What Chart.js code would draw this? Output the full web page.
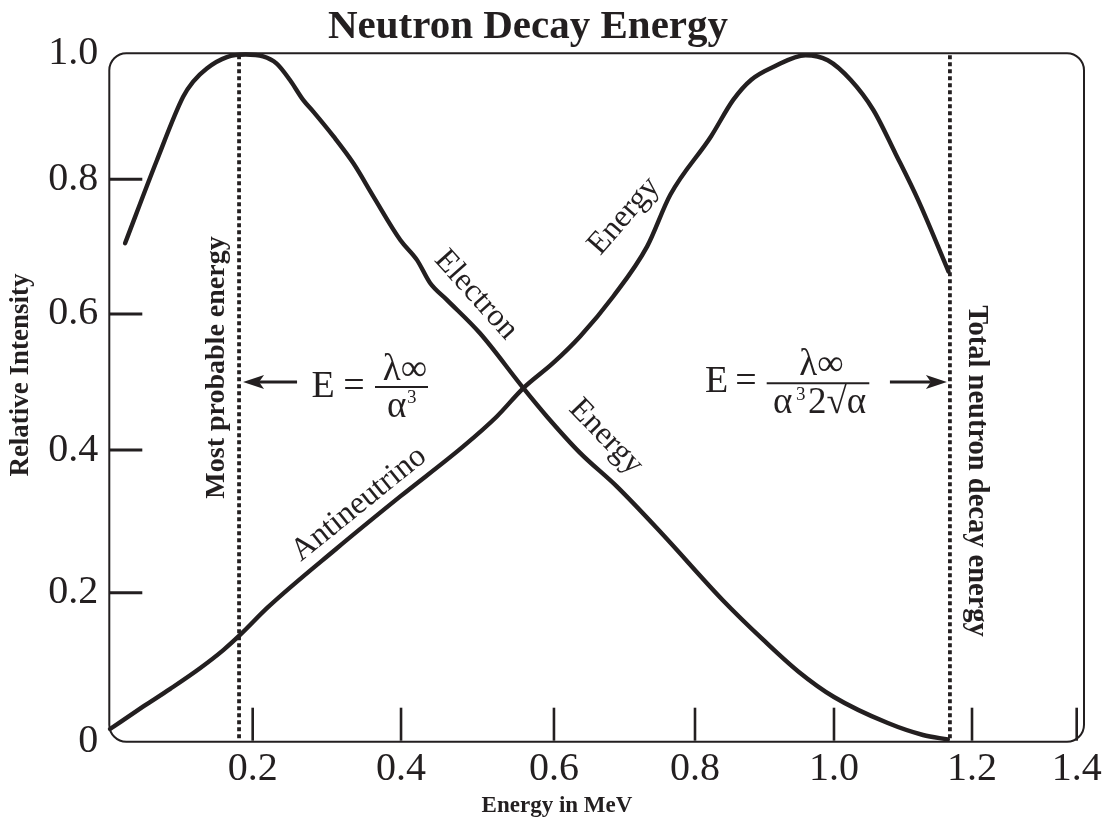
<!DOCTYPE html>
<html>
<head>
<meta charset="utf-8">
<script src="https://cdn.jsdelivr.net/npm/chart.js@4.4.1/dist/chart.umd.min.js"></script>
<style>
  html, body { margin: 0; padding: 0; background: #ffffff; }
  #wrap { width: 1107px; height: 820px; position: relative; }
</style>
</head>
<body>
<div id="wrap"><canvas id="c" width="1107" height="820"></canvas></div>
<script>
// ---------------- data ----------------
const electronEnergy    = [0.022, 0.066, 0.103, 0.117, 0.136, 0.164, 0.190, 0.214, 0.232, 0.250, 0.268, 0.282, 0.309, 0.336, 0.363, 0.399, 0.421, 0.438, 0.460, 0.503, 0.560, 0.591, 0.637, 0.689, 0.753, 0.840, 0.898, 0.949, 1.000, 1.078, 1.129, 1.165];
const electronIntensity = [0.705, 0.829, 0.931, 0.955, 0.976, 0.994, 0.998, 0.995, 0.984, 0.958, 0.926, 0.907, 0.868, 0.825, 0.774, 0.710, 0.680, 0.646, 0.621, 0.572, 0.491, 0.449, 0.396, 0.349, 0.283, 0.190, 0.137, 0.094, 0.060, 0.025, 0.009, 0.003];

const antineutrinoEnergy    = [0.001, 0.047, 0.085, 0.127, 0.159, 0.182, 0.221, 0.312, 0.399, 0.481, 0.525, 0.560, 0.599, 0.637, 0.684, 0.732, 0.765, 0.823, 0.855, 0.881, 0.914, 0.959, 0.991, 1.024, 1.057, 1.089, 1.122, 1.166];
const antineutrinoIntensity = [0.017, 0.047, 0.071, 0.099, 0.123, 0.143, 0.181, 0.261, 0.335, 0.405, 0.449, 0.491, 0.528, 0.567, 0.626, 0.700, 0.777, 0.868, 0.926, 0.958, 0.979, 0.997, 0.989, 0.958, 0.910, 0.841, 0.769, 0.663];

const xTickValues = [0.2, 0.4, 0.6, 0.8, 1.0, 1.2, 1.4];
const xTickLabels = ['0.2', '0.4', '0.6', '0.8', '1.0', '1.2', '1.4'];
const yTickValues = [0, 0.2, 0.4, 0.6, 0.8, 1.0];
const yTickLabels = ['0', '0.2', '0.4', '0.6', '0.8', '1.0'];

const mostProbableEnergy = 0.181;   // dotted line, left
const totalDecayEnergy   = 1.168;   // dotted line, right
const arrowIntensity     = 0.5;     // level of the two arrows

// ---------------- axis geometry (hand-drawn, uneven tick spacing) ----------------
const xAxisBreaks = { values: [0, 0.2, 0.4, 0.6, 0.8, 1.0, 1.2, 1.4, 1.414],
                      fractions: [0, 0.1471, 0.2993, 0.4562, 0.6009, 0.7435, 0.8851, 0.9925, 1] };
const yAxisBreaks = { values: [0, 0.2, 0.4, 0.6, 0.8, 1.0],
                      fractions: [0, 0.2164, 0.4237, 0.6213, 0.8170, 1] };

const INK = '#231f20';
const SERIF = '"Liberation Serif", "Times New Roman", Times, serif';

function interp(v, xs, ys) {
  if (v <= xs[0]) return ys[0] + (v - xs[0]) * (ys[1] - ys[0]) / (xs[1] - xs[0]);
  for (let i = 1; i < xs.length; i++) {
    if (v <= xs[i]) return ys[i - 1] + (v - xs[i - 1]) * (ys[i] - ys[i - 1]) / (xs[i] - xs[i - 1]);
  }
  const n = xs.length - 1;
  return ys[n] + (v - xs[n]) * (ys[n] - ys[n - 1]) / (xs[n] - xs[n - 1]);
}

class PiecewiseScale extends Chart.LinearScale {
  static id = 'piecewise';
  static defaults = Chart.LinearScale.defaults;
  _breaks() { return this.axis === 'x' ? xAxisBreaks : yAxisBreaks; }
  getPixelForValue(value) {
    if (value === null || value === undefined || isNaN(value)) return NaN;
    const b = this._breaks();
    return this.getPixelForDecimal(interp(value, b.values, b.fractions));
  }
  getValueForPixel(pixel) {
    const b = this._breaks();
    return interp(this.getDecimalForPixel(pixel), b.fractions, b.values);
  }
}
Chart.register(PiecewiseScale);

// ---------------- drawing helpers ----------------
function roundRectPath(ctx, x0, y0, x1, y1, r) {
  ctx.beginPath();
  ctx.moveTo(x0 + r, y0);
  ctx.lineTo(x1 - r, y0);
  ctx.arcTo(x1, y0, x1, y0 + r, r);
  ctx.lineTo(x1, y1 - r);
  ctx.arcTo(x1, y1, x1 - r, y1, r);
  ctx.lineTo(x0 + r, y1);
  ctx.arcTo(x0, y1, x0, y1 - r, r);
  ctx.lineTo(x0, y0 + r);
  ctx.arcTo(x0, y0, x0 + r, y0, r);
  ctx.closePath();
}
function seg(ctx, x0, y0, x1, y1) {
  ctx.beginPath(); ctx.moveTo(x0, y0); ctx.lineTo(x1, y1); ctx.stroke();
}
function arrow(ctx, tailX, tipX, y) {
  const dir = tipX < tailX ? -1 : 1;
  const L = 21, H = 7, notch = 5;
  ctx.lineWidth = 3;
  seg(ctx, tailX, y, tipX - dir * (L - notch), y);
  ctx.beginPath();
  ctx.moveTo(tipX, y);
  ctx.lineTo(tipX - dir * L, y - H);
  ctx.lineTo(tipX - dir * (L - notch), y);
  ctx.lineTo(tipX - dir * L, y + H);
  ctx.closePath();
  ctx.fill();
}
function txt(ctx, s, x, y, font, align, baseline, angleDeg) {
  ctx.save();
  ctx.translate(x, y);
  if (angleDeg) ctx.rotate(angleDeg * Math.PI / 180);
  ctx.font = font;
  ctx.textAlign = align || 'center';
  ctx.textBaseline = baseline || 'middle';
  ctx.fillText(s, 0, 0);
  ctx.restore();
}

const framePlugin = {
  id: 'frameAndMarks',
  beforeDatasetsDraw(chart) {
    const { ctx, chartArea: a } = chart;
    const xs = chart.scales.x, ys = chart.scales.y;
    ctx.save();
    ctx.strokeStyle = INK;
    ctx.lineWidth = 2;
    roundRectPath(ctx, a.left, a.top, a.right, a.bottom, 17);
    ctx.stroke();
    // inner tick marks
    ctx.lineWidth = 2.6;
    xTickValues.forEach(v => {
      const px = xs.getPixelForValue(v);
      seg(ctx, px, a.bottom - 1, px, a.bottom - 34);
    });
    ctx.lineWidth = 3;
    yTickValues.filter(v => v > 0 && v < 1).forEach(v => {
      const py = ys.getPixelForValue(v);
      seg(ctx, a.left, py, a.left + 33, py);
    });
    // dotted markers
    ctx.setLineDash([4, 3]);
    ctx.lineWidth = 3.8;
    [mostProbableEnergy, totalDecayEnergy].forEach(v => {
      const px = xs.getPixelForValue(v);
      seg(ctx, px, a.top + 2, px, a.bottom);
    });
    ctx.restore();
  },
  afterDatasetsDraw(chart) {
    const { ctx } = chart;
    const xs = chart.scales.x, ys = chart.scales.y;
    ctx.save();
    ctx.fillStyle = INK;
    ctx.strokeStyle = INK;

    // arrows
    const ay = ys.getPixelForValue(arrowIntensity);
    const leftTip = xs.getPixelForValue(mostProbableEnergy) + 4;
    arrow(ctx, leftTip + 54, leftTip, ay);
    const rightTip = xs.getPixelForValue(totalDecayEnergy) - 3;
    arrow(ctx, rightTip - 57, rightTip, ay);

    // left formula  E = λ∞ / α³
    const F = '38px ' + SERIF, Fs = '37px ' + SERIF, Fsup = '19px ' + SERIF;
    txt(ctx, 'E', 323, 396.7, F, 'center', 'alphabetic');
    txt(ctx, '=', 354, 396.7, F, 'center', 'alphabetic');
    ctx.lineWidth = 2;
    seg(ctx, 375, 387, 428, 387);
    txt(ctx, 'λ∞', 405, 380, Fs, 'center', 'alphabetic');
    txt(ctx, 'α', 387, 417, Fs, 'left', 'alphabetic');
    txt(ctx, '3', 407, 403, Fsup, 'left', 'alphabetic');

    // right formula  E = λ∞ / (α³ 2√α)
    txt(ctx, 'E', 716.7, 391.7, F, 'center', 'alphabetic');
    txt(ctx, '=', 746, 391.7, F, 'center', 'alphabetic');
    seg(ctx, 766.7, 383.3, 869.3, 383.3);
    txt(ctx, 'λ∞', 821.5, 375, Fs, 'center', 'alphabetic');
    txt(ctx, 'α', 773, 413, Fs, 'left', 'alphabetic');
    txt(ctx, '3', 796, 400, Fsup, 'left', 'alphabetic');
    txt(ctx, '2√α', 808, 413, Fs, 'left', 'alphabetic');

    // curve labels
    const C = '32px ' + SERIF;
    txt(ctx, 'Electron', 476, 295, C, 'center', 'middle', 48);
    txt(ctx, 'Energy', 606, 437, C, 'center', 'middle', 46);
    txt(ctx, 'Energy', 624, 216, C, 'center', 'middle', -49);
    txt(ctx, 'Antineutrino', 359, 504, C, 'center', 'middle', -39);

    // bold rotated notes
    txt(ctx, 'Most probable energy', 216.5, 367.5, 'bold 28px ' + SERIF, 'center', 'middle', -90);
    txt(ctx, 'Total neutron decay energy', 976.7, 471, 'bold 28.5px ' + SERIF, 'center', 'middle', 90);
    txt(ctx, 'Relative Intensity', 20.8, 375, 'bold 27px ' + SERIF, 'center', 'middle', -90);
    txt(ctx, 'Energy in MeV', 557, 806, 'bold 23px ' + SERIF, 'center', 'middle');

    // title
    txt(ctx, 'Neutron Decay Energy', 528, 38.3, 'bold 41px ' + SERIF, 'center', 'alphabetic');
    ctx.restore();
  }
};

const lineStyle = {
  borderColor: INK,
  borderWidth: 4.4,
  pointRadius: 0,
  fill: false,
  cubicInterpolationMode: 'monotone',
  borderCapStyle: 'round',
  borderJoinStyle: 'round',
  clip: false
};

new Chart(document.getElementById('c'), {
  type: 'line',
  data: {
    datasets: [
      Object.assign({ label: 'Electron Energy',
        data: electronEnergy.map((x, i) => ({ x, y: electronIntensity[i] })) }, lineStyle),
      Object.assign({ label: 'Antineutrino Energy',
        data: antineutrinoEnergy.map((x, i) => ({ x, y: antineutrinoIntensity[i] })) }, lineStyle)
    ]
  },
  options: {
    responsive: false,
    animation: false,
    devicePixelRatio: 1,
    layout: { padding: { left: 0, top: 53.3, right: 23, bottom: 0 } },
    plugins: { legend: { display: false }, tooltip: { enabled: false }, title: { display: false } },
    scales: {
      x: {
        type: 'piecewise', min: 0, max: 1.414,
        grid: { display: false, drawTicks: false },
        border: { display: false },
        afterBuildTicks: s => { s.ticks = xTickValues.map(v => ({ value: v })); },
        afterFit: s => { s.height = 78.3; s.paddingLeft = 0; s.paddingRight = 0; },
        ticks: {
          autoSkip: false, maxRotation: 0, minRotation: 0,
          callback: (v, i) => xTickLabels[i],
          font: { family: SERIF, size: 40 }, color: INK, padding: 4
        }
      },
      y: {
        type: 'piecewise', min: 0, max: 1.0,
        grid: { display: false, drawTicks: false },
        border: { display: false },
        afterBuildTicks: s => { s.ticks = yTickValues.map(v => ({ value: v })); },
        afterFit: s => { s.width = 109.3; s.paddingTop = 0; s.paddingBottom = 0; },
        ticks: {
          autoSkip: false,
          callback: (v, i) => yTickLabels[i],
          font: { family: SERIF, size: 40 }, color: INK, padding: 11
        }
      }
    }
  },
  plugins: [framePlugin]
});
</script>
</body>
</html>
